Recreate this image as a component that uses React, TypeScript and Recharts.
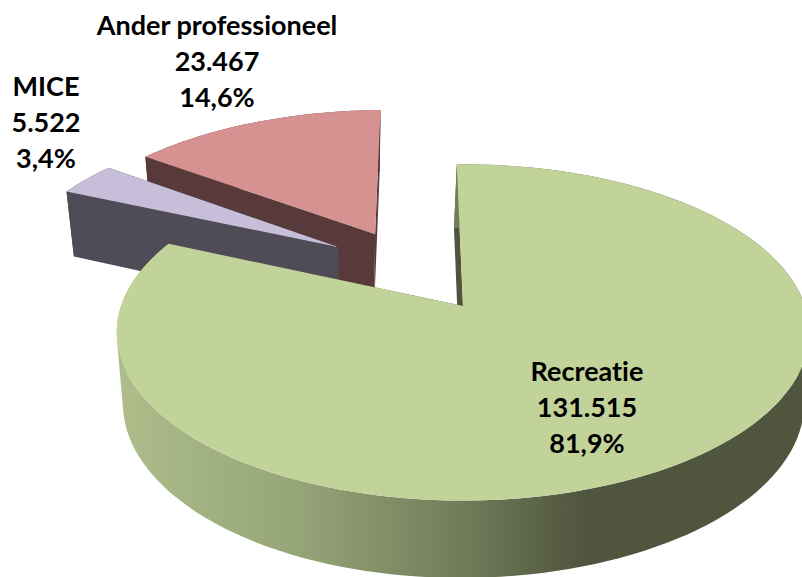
import { Pie, PieChart } from 'recharts';

const categories = ['Ander professioneel', 'MICE', 'Recreatie'];
const visitors = [23467, 5522, 131515];
const shares = [14.6, 3.4, 81.9];

const topColors = ['#D69291', '#C7BFD9', '#C2D39A'];
const wallColors = ['#593A3A', '#4F4C58', '#4F553D'];
// how far each slice is pulled out, in pie radii (right, away from viewer)
const explodeU = [-0.276, -0.387, 0];
const explodeV = [0.4715, 0.381, 0];
const labelX = [217, 46, 587];
const labelY = [26, 87, 372];

// fake 3D: the disc is a flat circle seen in perspective
const PERSPECTIVE = 0.157;
const SQUASH = 164 / 342;

const rows = categories.map((name, i) => ({ name, value: visitors[i], share: shares[i] }));

const formatCount = (n: number) => String(n).replace(/\B(?=(\d{3})+$)/g, '.');
const formatShare = (n: number) => n.toFixed(1).replace('.', ',') + '%';

type Pt = [number, number];

const toD = (pts: Pt[]) => 'M' + pts.map(p => p[0].toFixed(1) + ',' + p[1].toFixed(1)).join('L') + 'Z';

// same winding for every quad, so overlaps at the fold of the wall don't cancel out
function clockwise(pts: Pt[]): Pt[] {
  const area = pts.reduce((sum, p, i) => {
    const q = pts[(i + 1) % pts.length];
    return sum + p[0] * q[1] - q[0] * p[1];
  }, 0);
  return area < 0 ? [...pts].reverse() : pts;
}

function SliceShape(props: any) {
  const { cx, cy, outerRadius, startAngle, endAngle } = props;
  const idx = categories.indexOf(props.name ?? props.payload?.name);

  const top = (u: number, v: number): Pt => {
    const w = 1 + PERSPECTIVE * v;
    return [cx + (outerRadius * u) / w, cy - (outerRadius * SQUASH * v) / w];
  };
  // bottom plane of the disc, a little off from the top plane
  const bottom = (u: number, v: number): Pt => {
    const w = 1 + PERSPECTIVE * v;
    return [cx - 3 + ((u < 0 ? 333 : 340) * u) / w, cy + 69.6 - (170.6 * v) / w];
  };

  const ou = explodeU[idx];
  const ov = explodeV[idx];
  const arc: Pt[] = [];
  const steps = Math.max(4, Math.ceil(Math.abs(endAngle - startAngle) / 2));
  for (let s = 0; s <= steps; s++) {
    const a = ((startAngle + ((endAngle - startAngle) * s) / steps) * Math.PI) / 180;
    arc.push([ou + Math.cos(a), ov + Math.sin(a)]);
  }
  const first = arc[0];
  const last = arc[arc.length - 1];

  const topArc = arc.map(p => top(p[0], p[1]));
  // curved wall is swept quad by quad, otherwise the silhouette notches at the sides
  const sweep = arc
    .slice(1)
    .map((p, i) =>
      toD(clockwise([top(arc[i][0], arc[i][1]), top(p[0], p[1]), bottom(p[0], p[1]), bottom(arc[i][0], arc[i][1])])),
    )
    .join('');
  const isGreen = idx === 2;
  const wallFill = wallColors[idx];

  return (
    <g>
      {isGreen && (
        <defs>
          <linearGradient id="green-wall" gradientUnits="userSpaceOnUse" x1="117" y1="0" x2="802" y2="0">
            <stop offset="0" stopColor="#AEBD8A" />
            <stop offset="0.27" stopColor="#95A477" />
            <stop offset="0.5" stopColor="#727C5A" />
            <stop offset="0.68" stopColor="#50563E" />
            <stop offset="1" stopColor="#50563E" />
          </linearGradient>
        </defs>
      )}
      {/* radial walls first, then the curved wall, the top face goes last */}
      <path d={toD([top(ou, ov), top(first[0], first[1]), bottom(first[0], first[1]), bottom(ou, ov)])} fill={wallFill} />
      <path d={toD([top(ou, ov), top(last[0], last[1]), bottom(last[0], last[1]), bottom(ou, ov)])} fill={wallFill} />
      <path d={sweep} fill={isGreen ? 'url(#green-wall)' : wallFill} />
      <path d={toD([top(ou, ov), ...topArc])} fill={topColors[idx]} />
    </g>
  );
}

function SliceLabel(props: any) {
  const idx = categories.indexOf(props.name ?? props.payload?.name);
  const x = labelX[idx];
  const lines = [categories[idx], formatCount(visitors[idx]), formatShare(shares[idx])];
  return (
    <text
      x={x}
      y={labelY[idx]}
      textAnchor="middle"
      fontFamily="Lato"
      fontWeight={700}
      fontSize={27}
      fill="#000"
      style={{ fontVariantLigatures: 'none' }}
    >
      {lines.map((line, i) => (
        <tspan key={line} x={x} y={labelY[idx] + i * 36} dy="0.35em">
          {line}
        </tspan>
      ))}
    </text>
  );
}

export default function App() {
  return (
    <div style={{ position: 'absolute', left: 0, top: 0, width: 802, height: 577, background: '#fff' }}>
      <PieChart width={802} height={577} margin={{ top: 0, right: 0, bottom: 0, left: 0 }}>
        {/* counter-clockwise so the big slice paints last, over the pulled-out ones */}
        <Pie
          data={rows}
          dataKey="value"
          nameKey="name"
          cx={463}
          cy={306}
          innerRadius={0}
          outerRadius={342}
          startAngle={91.2}
          endAngle={451.2}
          stroke="none"
          shape={SliceShape}
          activeShape={SliceShape}
          inactiveShape={SliceShape}
          label={SliceLabel}
          labelLine={false}
          isAnimationActive={false}
        />
      </PieChart>
    </div>
  );
}
